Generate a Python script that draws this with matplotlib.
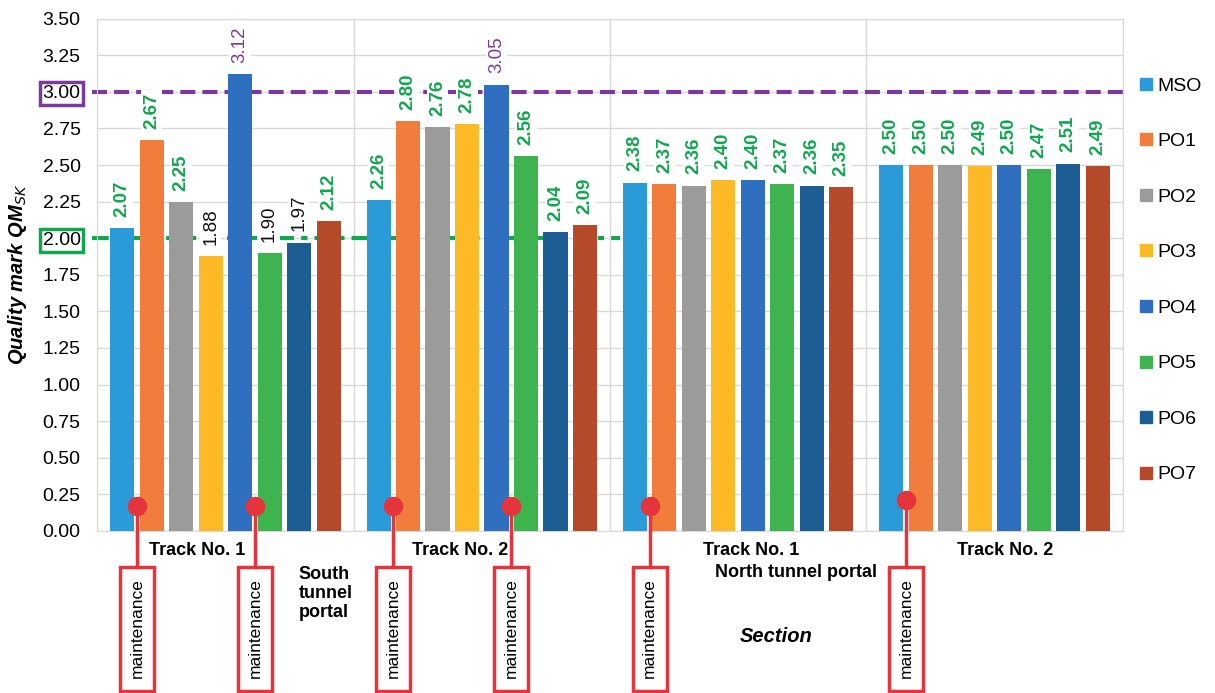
import matplotlib.pyplot as plt
import matplotlib.patches as patches
import matplotlib.transforms as mtransforms
from matplotlib.lines import Line2D
import numpy as np

plt.rcParams['font.family'] = ['Liberation Sans', 'DejaVu Sans']

# ---- data ----
groups = ['Track No. 1', 'Track No. 2', 'Track No. 1', 'Track No. 2']
series = ['MSO', 'PO1', 'PO2', 'PO3', 'PO4', 'PO5', 'PO6', 'PO7']
mso = [2.07, 2.26, 2.38, 2.50]
po1 = [2.67, 2.80, 2.37, 2.50]
po2 = [2.25, 2.76, 2.36, 2.50]
po3 = [1.88, 2.78, 2.40, 2.49]
po4 = [3.12, 3.05, 2.40, 2.50]
po5 = [1.90, 2.56, 2.37, 2.47]
po6 = [1.97, 2.04, 2.36, 2.51]
po7 = [2.12, 2.09, 2.35, 2.49]
values = [mso, po1, po2, po3, po4, po5, po6, po7]
limit_hi = 3.00
limit_lo = 2.00
# maintenance markers: (group, bar boundary after series index)
maint = [(0, 0), (0, 4), (1, 0), (1, 4), (2, 0), (3, 0)]

# ---- colours ----
COLORS = ['#2A9AD8', '#F07D3C', '#9B9B9B', '#FBBA26', '#2F6FBF',
          '#3DB44E', '#1C5E93', '#B54A2A']
GREEN = '#12A650'
PURPLE = '#7A3A9C'
RED = '#E5343C'
GRID = '#D9D9D9'

fig = plt.figure(figsize=(12.15, 6.93), dpi=100, facecolor='white')
ax = fig.add_axes([0.080, 0.234, 0.844, 0.739])

n = len(series)
pitch = 0.115
width = 0.094
x = np.arange(len(groups))

for i, (name, vals, col) in enumerate(zip(series, values, COLORS)):
    xs = x + (i - (n - 1) / 2) * pitch
    ax.bar(xs, vals, width=width, color=col, zorder=3, label=name)
    for xi, v in zip(xs, vals):
        if v > limit_hi:
            c, w = PURPLE, 'normal'
        elif v >= limit_lo:
            c, w = GREEN, 'bold'
        else:
            c, w = '#111111', 'normal'
        ax.annotate(f'{v:.2f}', (xi, v), xytext=(0, 8), textcoords='offset points',
                    rotation=90, ha='center', va='bottom', fontsize=13.5,
                    color=c, fontweight=w, zorder=4,
                    bbox=dict(boxstyle='square,pad=0.12', fc='white', ec='none'))

ax.set_xlim(-0.5, len(groups) - 0.5)
ax.set_ylim(0, 3.5)
ax.set_yticks(np.arange(0, 3.51, 0.25))
ax.set_yticklabels([f'{t:.2f}' for t in np.arange(0, 3.51, 0.25)], fontsize=14)
ax.set_xticks([])
ax.tick_params(axis='y', length=0, pad=12)
ax.grid(axis='y', color=GRID, lw=1, zorder=0)
for b in np.arange(-0.5, len(groups), 1.0):
    ax.axvline(b, color=GRID, lw=1, zorder=0)
for s in ax.spines.values():
    s.set_color(GRID)

# boxed tick labels
for lab, val in zip(ax.get_yticklabels(), np.arange(0, 3.51, 0.25)):
    if abs(val - limit_hi) < 1e-6:
        lab.set_bbox(dict(boxstyle='square,pad=0.15', fc='white', ec=PURPLE, lw=2.5))
    if abs(val - limit_lo) < 1e-6:
        lab.set_bbox(dict(boxstyle='square,pad=0.15', fc='white', ec=GREEN, lw=2.5))

# limit lines
ax.plot([-0.52, 3.5], [limit_hi, limit_hi], color=PURPLE, lw=3, ls=(0, (3.6, 1.7)),
        zorder=2, clip_on=False)
ax.plot([-0.52, 1.54], [limit_lo, limit_lo], color=GREEN, lw=3, ls=(0, (4, 1.7, 1.5, 1.7)),
        zorder=2, clip_on=False)

ax.set_ylabel('Quality mark QM$_{SK}$', fontsize=14.5, fontweight='bold',
              fontstyle='italic', labelpad=10)

# maintenance markers
trans = mtransforms.blended_transform_factory(ax.transData, ax.transAxes)
for g, k in maint:
    xm = x[g] + (k + 0.5 - (n - 1) / 2) * pitch
    ydot = 0.21 if g == 3 else 0.17
    ax.plot([xm, xm], [ydot / 3.5, -0.07], color=RED, lw=2.5, transform=trans,
            clip_on=False, zorder=5)
    ax.plot([xm], [ydot / 3.5], 'o', color=RED, ms=13, transform=trans,
            clip_on=False, zorder=6)
    ax.add_patch(patches.Rectangle((xm - 0.066, -0.312), 0.132, 0.242, fill=False,
                                   ec=RED, lw=2.5, transform=trans, clip_on=False))
    ax.text(xm, -0.19, 'maintenance', rotation=90, ha='center', va='center',
            fontsize=12.5, transform=trans, clip_on=False)

# section labels
track_x = [-0.11, 0.915, 2.05, 3.04]
for gx, lab in zip(track_x, groups):
    ax.text(gx, -0.039, lab, ha='center', va='center', fontsize=13,
            fontweight='bold', transform=trans)
ax.text(0.285, -0.123, 'South\ntunnel\nportal', ha='left', va='center', fontsize=13,
        fontweight='bold', linespacing=1.15, transform=trans)
ax.text(2.227, -0.082, 'North tunnel portal', ha='center', va='center', fontsize=13,
        fontweight='bold', transform=trans)
ax.text(2.148, -0.207, 'Section', ha='center', va='center', fontsize=14.5,
        fontweight='bold', fontstyle='italic', transform=trans)

# legend
handles = [Line2D([], [], marker='s', ls='none', color=c, ms=8) for c in COLORS]
fig.legend(handles, series, loc='upper left', bbox_to_anchor=(0.932, 0.900),
           frameon=False, fontsize=14, handlelength=0.6, handletextpad=0.3,
           labelspacing=1.95, borderaxespad=0)

fig.savefig('out.png', dpi=100, facecolor='white')
